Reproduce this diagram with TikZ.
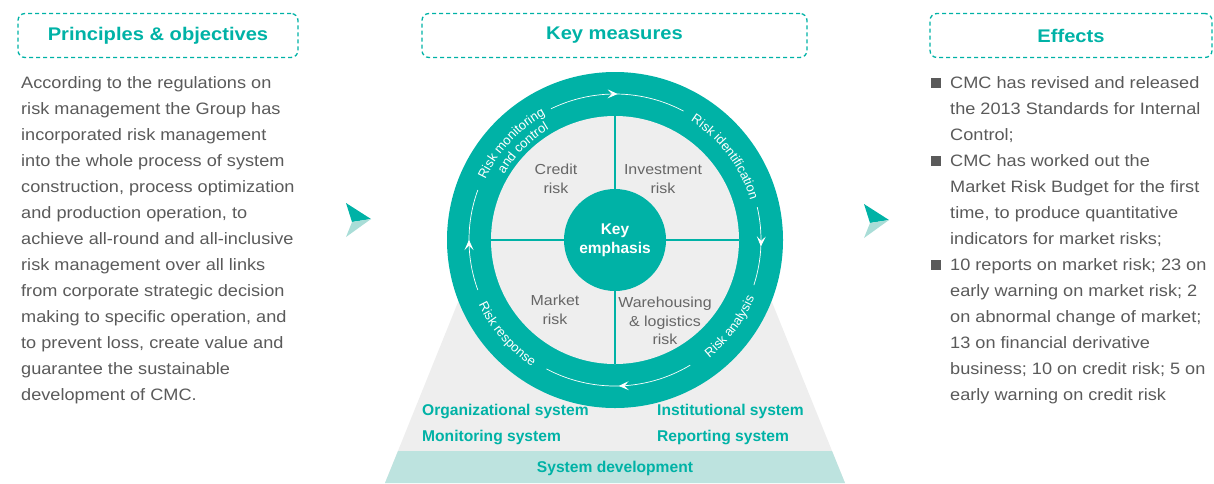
\documentclass[tikz,border=0pt]{standalone}
\usepackage{fontspec}
\setmainfont{Liberation Sans}
\newfontfamily\widesans[FakeStretch=1.1]{Liberation Sans}
\usetikzlibrary{arrows.meta,decorations.text,decorations.markings}

\definecolor{cmcteal}{HTML}{00B2A6}
\definecolor{cmcband}{HTML}{BDE3DF}
\definecolor{cmcback}{HTML}{EEEEEE}
\definecolor{cmctext}{HTML}{5A5A5A}
\definecolor{cmccell}{HTML}{666666}
\definecolor{cmcchev}{HTML}{A9DDD7}

\tikzset{
  headbox/.style={draw=cmcteal, dash pattern=on 4pt off 3pt, line width=1.3pt,
    rounded corners=7pt, minimum height=44pt, text=cmcteal,
    font=\widesans\fontsize{18.3}{20}\selectfont\bfseries},
  bodytext/.style={anchor=north west, inner sep=0pt, align=left, text=cmctext,
    font=\widesans\fontsize{16.5}{26}\selectfont},
  cell/.style={align=center, inner sep=0pt, text=cmccell,
    font=\widesans\fontsize{14.5}{18.5}\selectfont},
  sysname/.style={anchor=west, inner sep=0pt, text=cmcteal,
    font=\fontsize{15.6}{18}\selectfont\bfseries},
  flowarc/.style={color=white, line width=0.7pt, postaction={decorate},
    decoration={markings, mark=at position 0.5 with {\arrow{Stealth[length=10pt,width=9pt,inset=4.5pt]}}}},
  ringlabel/.style={decorate, decoration={text along path, text align=center,
    text color=white, text={|\fontsize{13}{14}\selectfont|#1}}},
}

\begin{document}
\begin{tikzpicture}[x=1pt,y=1pt]
\useasboundingbox (0,0) rectangle (1214,-483);

% headings
\node[headbox, minimum width=280pt] (principles) at (158,-35.5) {Principles \& objectives};
\node[headbox, minimum width=385pt] (measures) at (614.5,-35.5) {Key measures};
\node[headbox, minimum width=282pt] (effects) at (1071,-35.5) {Effects};

% left column
\node[bodytext] (policy) at (21,-76) {According to the regulations on\\
risk management the Group has\\
incorporated risk management\\
into the whole process of system\\
construction, process optimization\\
and production operation, to\\
achieve all-round and all-inclusive\\
risk management over all links\\
from corporate strategic decision\\
making to specific operation, and\\
to prevent loss, create value and\\
guarantee the sustainable\\
development of CMC.};

% chevrons
\foreach \cx/\cy in {346/-203, 864/-204} {
  \fill[cmcteal] (\cx,\cy) -- (\cx+25,\cy-16) -- (\cx+6,\cy-19) -- cycle;
  \fill[cmcchev] (\cx+6,\cy-19) -- (\cx+25,\cy-16) -- (\cx,\cy-34) -- cycle;
}

% base of the wheel
\fill[cmcback] (475,-260) -- (755,-260) -- (845,-483) -- (385,-483) -- cycle;
\fill[cmcband] (398,-451) -- (832,-451) -- (845,-483) -- (385,-483) -- cycle;

% wheel
\coordinate (hub) at (615,-240);
\begin{scope}[shift={(hub)}]
  \fill[cmcteal] (0,0) circle (168);
  \fill[cmcback] (0,0) circle (124);
  \draw[cmcteal, line width=2pt] (90:124) -- (270:124);
  \draw[cmcteal, line width=2pt] (180:124) -- (0:124);

  \draw[flowarc] (116:146) arc[start angle=116, end angle=62, radius=146];
  \draw[flowarc] (13:146) arc[start angle=13, end angle=-18, radius=146];
  \draw[flowarc] (-59:146) arc[start angle=-59, end angle=-118, radius=146];
  \draw[flowarc] (200:146) arc[start angle=200, end angle=160, radius=146];

  \path[ringlabel=Risk monitoring] (172:143) arc[start angle=172, end angle=102, radius=143];
  \path[ringlabel=and control] (170:129) arc[start angle=170, end angle=100, radius=129];
  \path[ringlabel=Risk identification] (74:141) arc[start angle=74, end angle=0, radius=141];
  \path[ringlabel=Risk analysis] (-76:151) arc[start angle=-76, end angle=2, radius=151];
  \path[ringlabel=Risk response] (182:151) arc[start angle=182, end angle=260, radius=151];
\end{scope}

\node[circle, fill=cmcteal, minimum size=102pt, inner sep=0pt, align=center, text=white,
  font=\fontsize{15.5}{19}\selectfont\bfseries] (key) at (hub) {Key\\emphasis};

\node[cell] (credit) at (556,-179) {Credit\\risk};
\node[cell] (investment) at (663,-179) {Investment\\risk};
\node[cell] (market) at (555,-310) {Market\\risk};
\node[cell] (warehousing) at (665,-321) {Warehousing\\\& logistics\\risk};

% systems
\node[sysname] (organizational) at (422,-411) {Organizational system};
\node[sysname] (monitoring) at (422,-437) {Monitoring system};
\node[sysname] (institutional) at (657,-411) {Institutional system};
\node[sysname] (reporting) at (657,-437) {Reporting system};
\node[sysname, anchor=center] (development) at (615,-468) {System development};

% right column
\node[bodytext] (effect1) at (950,-76) {CMC has revised and released\\
the 2013 Standards for Internal\\
Control;};
\node[bodytext] (effect2) at (950,-154) {CMC has worked out the\\
Market Risk Budget for the first\\
time, to produce quantitative\\
indicators for market risks;};
\node[bodytext] (effect3) at (950,-258) {10 reports on market risk; 23 on\\
early warning on market risk; 2\\
on abnormal change of market;\\
13 on financial derivative\\
business; 10 on credit risk; 5 on\\
early warning on credit risk};
\foreach \e in {effect1, effect2, effect3}
  \fill[cmctext] ([xshift=-19pt, yshift=-2pt]\e.north west) rectangle ++(10,-10);
\end{tikzpicture}
\end{document}
